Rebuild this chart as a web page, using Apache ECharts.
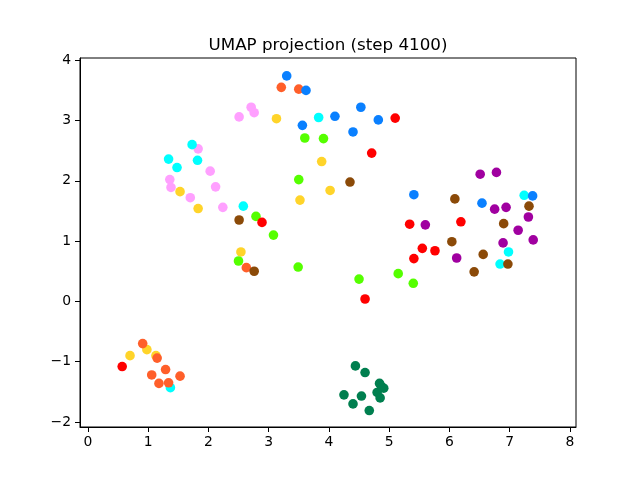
<!DOCTYPE html>
<html>
<head>
<meta charset="utf-8">
<script src="https://cdn.jsdelivr.net/npm/echarts@6/dist/echarts.min.js"></script>
<style>html,body{margin:0;padding:0;background:#fff;}#c{width:640px;height:480px;}</style>
</head>
<body>
<div id="c"></div>
<script>
// ---- data ----
const titleText = "UMAP projection (step 4100)";
const xTicks = [0, 1, 2, 3, 4, 5, 6, 7, 8];
const yTicks = [-2, -1, 0, 1, 2, 3, 4];

const pinkX = [2.71, 2.76, 2.51, 1.83, 2.03, 1.36, 1.38, 2.12, 1.70, 2.24];
const pinkY = [3.22, 3.13, 3.06, 2.53, 2.16, 2.02, 1.89, 1.90, 1.72, 1.56];

const yellowX = [3.13, 3.88, 3.52, 4.02, 1.53, 1.83, 2.54, 0.70, 0.98, 1.13];
const yellowY = [3.03, 2.32, 1.68, 1.84, 1.82, 1.54, 0.82, -0.90, -0.80, -0.90];

const cyanX = [3.83, 1.73, 1.34, 1.82, 1.48, 2.58, 7.24, 6.98, 6.84, 1.37];
const cyanY = [3.05, 2.60, 2.36, 2.34, 2.22, 1.58, 1.76, 0.82, 0.62, -1.43];

const greenX = [3.60, 3.91, 3.50, 2.79, 3.08, 2.50, 3.49, 4.50, 5.15, 5.40];
const greenY = [2.71, 2.70, 2.02, 1.41, 1.10, 0.67, 0.57, 0.37, 0.46, 0.30];

const redX = [5.10, 4.71, 2.89, 5.34, 6.19, 5.55, 5.76, 5.41, 4.60, 0.57];
const redY = [3.04, 2.46, 1.31, 1.28, 1.32, 0.88, 0.84, 0.71, 0.04, -1.08];

const orangeX = [3.21, 3.50, 2.63, 0.91, 1.15, 1.29, 1.06, 1.53, 1.18, 1.34];
const orangeY = [3.55, 3.52, 0.56, -0.70, -0.94, -1.13, -1.22, -1.24, -1.36, -1.35];

const purpleX = [6.51, 6.78, 6.75, 6.94, 7.31, 7.14, 7.39, 5.60, 6.89, 6.12];
const purpleY = [2.11, 2.14, 1.53, 1.56, 1.40, 1.18, 1.02, 1.27, 0.97, 0.72];

const brownX = [4.35, 6.09, 7.32, 6.90, 6.04, 6.56, 6.97, 6.41, 2.51, 2.76];
const brownY = [1.98, 1.70, 1.58, 1.29, 0.99, 0.78, 0.62, 0.49, 1.35, 0.50];

const blueX = [3.30, 3.62, 3.56, 4.10, 4.53, 4.82, 4.40, 5.41, 6.54, 7.38];
const blueY = [3.74, 3.50, 2.92, 3.07, 3.22, 3.01, 2.81, 1.77, 1.63, 1.75];

const dgreenX = [4.44, 4.60, 4.84, 4.91, 4.87, 4.80, 4.85, 4.25, 4.54, 4.40, 4.67];
const dgreenY = [-1.07, -1.18, -1.36, -1.44, -1.41, -1.51, -1.60, -1.55, -1.57, -1.70, -1.81];

const groups = [
  { x: pinkX, y: pinkY, color: '#ffa0ff' },
  { x: yellowX, y: yellowY, color: '#ffd42a' },
  { x: cyanX, y: cyanY, color: '#00ffff' },
  { x: greenX, y: greenY, color: '#55ff00' },
  { x: redX, y: redY, color: '#ff0000' },
  { x: orangeX, y: orangeY, color: '#ff5f2a' },
  { x: purpleX, y: purpleY, color: '#a000a0' },
  { x: brownX, y: brownY, color: '#8b4a08' },
  { x: blueX, y: blueY, color: '#0a80ff' },
  { x: dgreenX, y: dgreenY, color: '#007f4f' }
];

const fontFam = 'DejaVu Sans';
const fmt = v => (v < 0 ? '\u2212' + Math.abs(v) : String(v));

const chart = echarts.init(document.getElementById('c'), null, { renderer: 'canvas' });
chart.setOption({
  animation: false,
  backgroundColor: '#ffffff',
  title: {
    text: titleText,
    left: 323,
    top: 32,
    textAlign: 'center',
    textStyle: { fontFamily: fontFam, fontSize: 16.7, fontWeight: 'normal', color: '#000' }
  },
  grid: {
    left: 80, right: 64, top: 58, bottom: 53,
    show: true, borderColor: '#000', borderWidth: 1, backgroundColor: 'transparent'
  },
  xAxis: {
    type: 'value', min: -0.13, max: 8.1,
    splitLine: { show: false },
    axisLine: { show: true, onZero: false, lineStyle: { color: '#000', width: 1 } },
    axisTick: { show: true, length: 5, customValues: xTicks, lineStyle: { color: '#000' } },
    axisLabel: { customValues: xTicks, formatter: fmt, margin: 8, color: '#000', fontFamily: fontFam, fontSize: 13.9 }
  },
  yAxis: {
    type: 'value', min: -2.083, max: 4.037,
    splitLine: { show: false },
    axisLine: { show: true, onZero: false, lineStyle: { color: '#000', width: 1 } },
    axisTick: { show: true, length: 5, customValues: yTicks, lineStyle: { color: '#000' } },
    axisLabel: { customValues: yTicks, formatter: fmt, margin: 9, color: '#000', fontFamily: fontFam, fontSize: 13.9 }
  },
  series: groups.map(g => ({
    type: 'scatter',
    symbol: 'circle',
    symbolSize: 9.6,
    itemStyle: { color: g.color, opacity: 1 },
    data: g.x.map((xv, i) => [xv, g.y[i]])
  }))
});
</script>
</body>
</html>
